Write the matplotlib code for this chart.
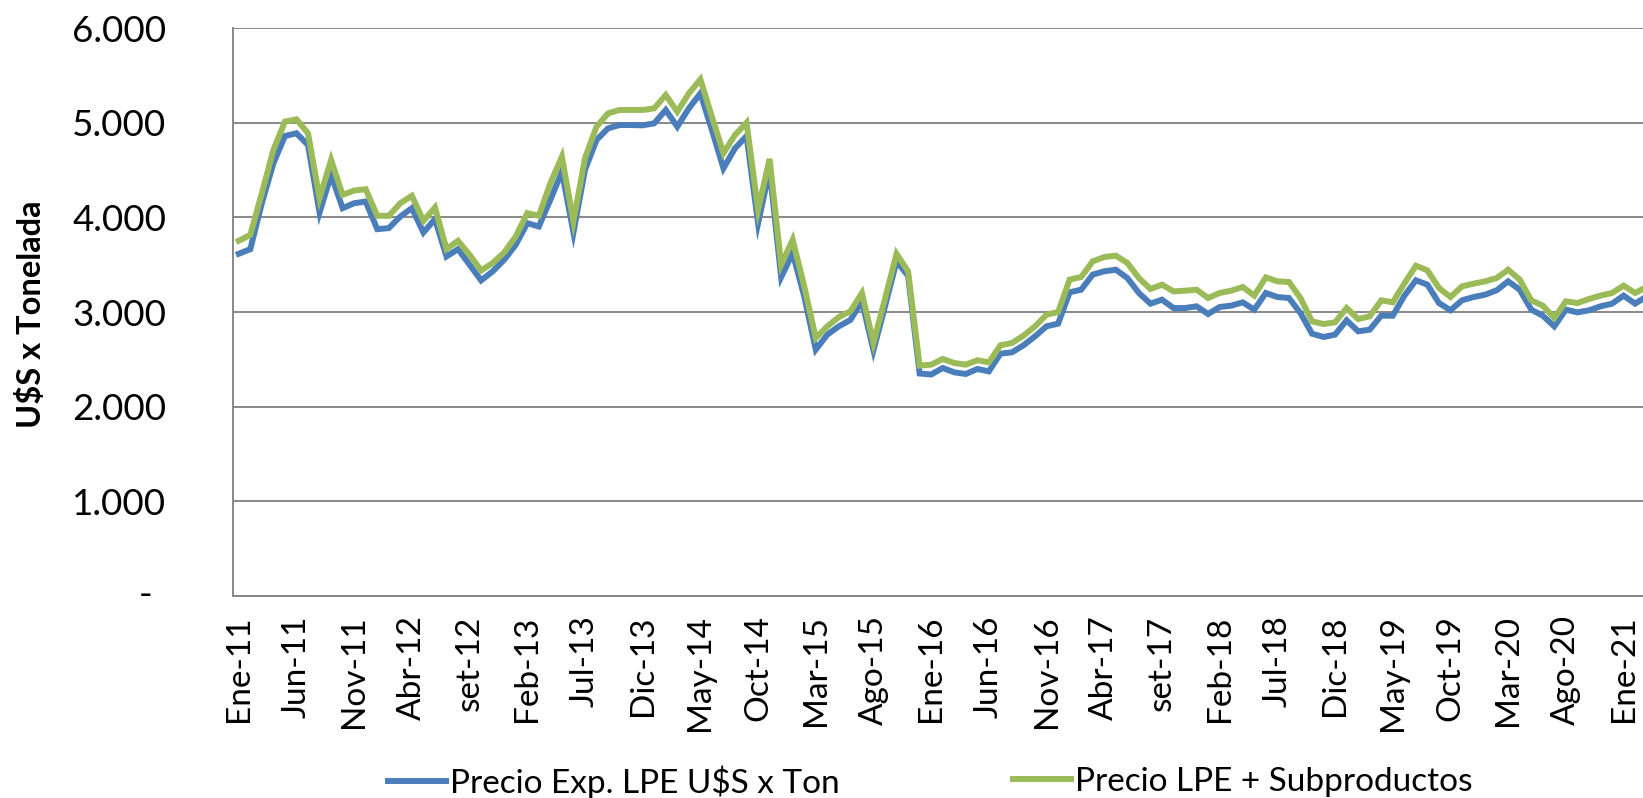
import matplotlib
matplotlib.use("Agg")
import matplotlib.pyplot as plt
from matplotlib.lines import Line2D

# ---- data ----
tick_labels = ["Ene-11", "Jun-11", "Nov-11", "Abr-12", "set-12", "Feb-13", "Jul-13",
               "Dic-13", "May-14", "Oct-14", "Mar-15", "Ago-15", "Ene-16", "Jun-16",
               "Nov-16", "Abr-17", "set-17", "Feb-18", "Jul-18", "Dic-18", "May-19",
               "Oct-19", "Mar-20", "Ago-20", "Ene-21"]

precio_exp = [3615, 3664, 4150, 4571, 4859, 4888, 4764, 4051, 4448, 4097,
              4149, 4167, 3875, 3886, 4009, 4097, 3840, 3981, 3587, 3664,
              3499, 3334, 3429, 3552, 3710, 3938, 3903, 4185, 4483, 3840,
              4501, 4817, 4940, 4975, 4975, 4972, 4993, 5134, 4958, 5151,
              5309, 4923, 4518, 4729, 4859, 3938, 4501, 3369, 3622, 3165,
              2603, 2761, 2849, 2916, 3112, 2596, 3060, 3534, 3383, 2350,
              2340, 2408, 2363, 2345, 2398, 2373, 2560, 2574, 2648, 2743,
              2849, 2877, 3208, 3236, 3395, 3430, 3447, 3359, 3201, 3088,
              3130, 3042, 3042, 3060, 2979, 3053, 3067, 3102, 3025, 3201,
              3158, 3148, 2989, 2771, 2736, 2761, 2912, 2796, 2813, 2961,
              2961, 3170, 3335, 3289, 3095, 3018, 3124, 3158, 3183, 3229,
              3324, 3236, 3025, 2961, 2849, 3025, 2996, 3018, 3060, 3088,
              3173, 3088, 3165]

precio_sub = [3752, 3815, 4255, 4712, 5011, 5035, 4888, 4202, 4606, 4237,
              4283, 4297, 4016, 4016, 4149, 4227, 3963, 4104, 3664, 3752,
              3604, 3439, 3517, 3629, 3798, 4044, 4016, 4360, 4641, 3956,
              4624, 4958, 5098, 5134, 5134, 5134, 5151, 5292, 5116, 5309,
              5457, 5063, 4677, 4870, 5000, 4079, 4617, 3499, 3763, 3271,
              2726, 2849, 2947, 3007, 3200, 2673, 3140, 3615, 3429, 2434,
              2444, 2504, 2461, 2444, 2490, 2468, 2648, 2673, 2750, 2849,
              2972, 3000, 3342, 3370, 3535, 3581, 3595, 3518, 3359, 3243,
              3289, 3218, 3225, 3236, 3148, 3201, 3225, 3264, 3173, 3366,
              3324, 3317, 3148, 2901, 2873, 2891, 3042, 2926, 2954, 3123,
              3102, 3300, 3489, 3440, 3254, 3158, 3271, 3299, 3324, 3359,
              3447, 3342, 3123, 3067, 2937, 3113, 3095, 3137, 3173, 3201,
              3278, 3201, 3264]

y_ticks = [0, 1000, 2000, 3000, 4000, 5000, 6000]
y_tick_labels = ["", "1.000", "2.000", "3.000", "4.000", "5.000", "6.000"]

serie_exp = "Precio Exp. LPE U$S x Ton"
serie_sub = "Precio LPE + Subproductos"
y_title = "U$S x Tonelada"

# ---- style ----
plt.rcParams['font.family'] = ['Lato', 'DejaVu Sans']
BLUE = '#4A7EBB'
GREEN = '#9BBB59'
GRID = '#888888'

W, H = 1643, 798
fig = plt.figure(figsize=(W / 100, H / 100), dpi=100)
left, right, top, bottom = 233, 1643, 28, 596
ax = fig.add_axes([left / W, (H - bottom) / H, (right - left) / W, (bottom - top) / H])

x = list(range(len(precio_exp)))
ax.plot(x, precio_exp, color=BLUE, lw=4.3, zorder=3, solid_joinstyle='miter')
ax.plot(x, precio_sub, color=GREEN, lw=4.3, zorder=4, solid_joinstyle='miter')

month_px = 11.54
ax.set_xlim(-0.5, -0.5 + (right - left) / month_px)
ax.set_ylim(0, 6000)

ax.set_yticks(y_ticks)
ax.set_yticklabels(y_tick_labels, fontsize=26.5)
ax.set_xticks(list(range(0, 5 * len(tick_labels), 5)))
ax.set_xticklabels(tick_labels, rotation=90, fontsize=24)
ax.tick_params(axis='y', length=0, pad=48)
ax.tick_params(axis='x', length=0, pad=14)

ax.grid(axis='y', color=GRID, lw=1.4)
ax.set_axisbelow(True)
for s in ['top', 'right']:
    ax.spines[s].set_visible(False)
for s in ['left', 'bottom']:
    ax.spines[s].set_color(GRID)
    ax.spines[s].set_linewidth(1.4)

fig.text(146 / W, (H - 596) / H, "-", ha='center', va='center', fontsize=26.5)
fig.text(31 / W, (H - 314) / H, y_title, rotation=90, ha='center', va='center',
         fontsize=23.5, fontweight='bold')

leg_y = (H - 782) / H
h1 = Line2D([], [], color=BLUE, lw=4.3)
h2 = Line2D([], [], color=GREEN, lw=4.3)
for h, lab, x0 in [(h1, serie_exp, 388), (h2, serie_sub, 1013)]:
    fig.legend([h], [lab], loc='center left', bbox_to_anchor=(x0 / W, leg_y),
               frameon=False, fontsize=24, handlelength=1.75, handletextpad=0.12,
               borderpad=0, borderaxespad=0)

fig.savefig("out.png", dpi=100)
